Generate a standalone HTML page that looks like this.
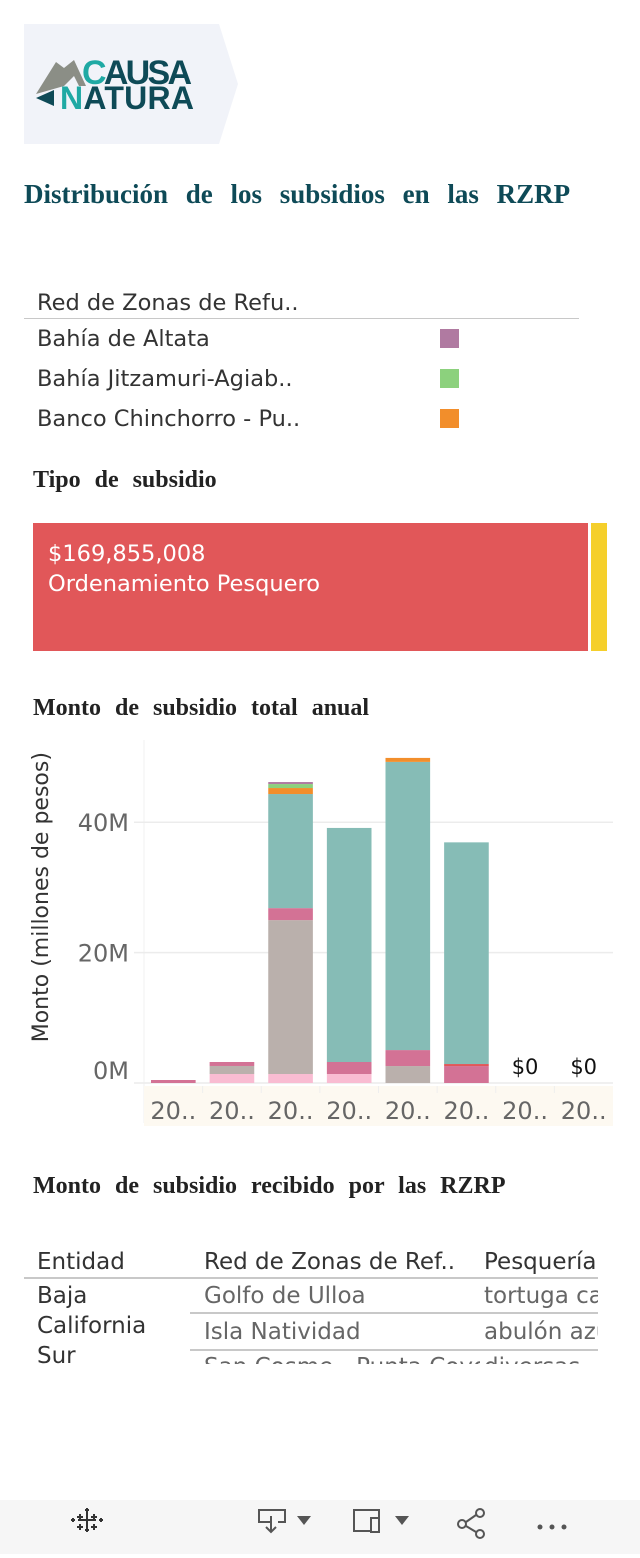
<!DOCTYPE html>
<html><head><meta charset="utf-8">
<style>
*{margin:0;padding:0;box-sizing:border-box}
body{width:640px;height:1554px;background:#fff;position:relative;overflow:hidden;font-family:"DejaVu Sans","Liberation Sans",sans-serif;color:#333}
.abs{position:absolute}
.ser{font-family:"Liberation Serif",serif;font-weight:bold;color:#222;word-spacing:8px;white-space:nowrap}
.leg{font-size:22.5px;color:#333;left:37px;white-space:nowrap}
.sw{width:19px;height:19px;left:440px}
.tb{font-size:23px;white-space:nowrap;overflow:hidden}
</style></head><body>
<div class="abs" style="left:24px;top:24px;width:214px;height:120px">
<svg width="214" height="120" viewBox="0 0 214 120">
<polygon points="0,0 195,0 214,60 195,120 0,120" fill="#f1f3f9"/>
<polygon points="12,70 32,38 40,44 50,36 62,62 55,62 50,52 40,62" fill="#8b8e86"/>
<polygon points="12,74 30,66 30,82" fill="#0e4a57"/>
<text x="58" y="60" font-family="Liberation Sans,sans-serif" font-weight="bold" font-size="34" fill="#0e4a57" textLength="110"><tspan fill="#1fa9a4">C</tspan>AUSA</text>
<text x="36" y="85" font-family="Liberation Sans,sans-serif" font-weight="bold" font-size="32" fill="#0e4a57" textLength="134"><tspan fill="#1fa9a4">N</tspan>ATURA</text>
</svg></div>
<div class="abs ser" style="left:24px;top:179px;font-size:27px;color:#0e4a57;word-spacing:11px">Distribución de los subsidios en las RZRP</div>

<div class="abs leg" style="top:290px">Red de Zonas de Refu..</div>
<div class="abs" style="left:24px;top:318px;width:555px;height:1px;background:#c8c8c8"></div>
<div class="abs leg" style="top:326px">Bahía de Altata</div>
<div class="abs sw" style="top:329px;background:#b07aa1"></div>
<div class="abs leg" style="top:366px">Bahía Jitzamuri-Agiab..</div>
<div class="abs sw" style="top:369px;background:#8cd17d"></div>
<div class="abs leg" style="top:406px">Banco Chinchorro - Pu..</div>
<div class="abs sw" style="top:409px;background:#f28e2b"></div>

<div class="abs ser" style="left:33px;top:467px;font-size:24px">Tipo de subsidio</div>
<div class="abs" style="left:33px;top:523px;width:555px;height:128px;background:#e15759;color:#fff;font-size:22.5px;padding:16px 0 0 15px;line-height:30px">$169,855,008<br>Ordenamiento Pesquero</div>
<div class="abs" style="left:591px;top:523px;width:16px;height:128px;background:#f5cf2b"></div>

<div class="abs ser" style="left:33px;top:695px;font-size:24px">Monto de subsidio total anual</div>
<svg class="abs" id="chart" style="left:0;top:730px" width="640" height="400"></svg>

<div class="abs ser" style="left:33px;top:1173px;font-size:24px">Monto de subsidio recibido por las RZRP</div>
<div class="abs" style="left:0;top:1248px;width:598px;height:116px;overflow:hidden">
<div class="abs tb" style="left:37px;top:1px;color:#333">Entidad</div>
<div class="abs tb" style="left:204px;top:1px;width:276px;color:#333">Red de Zonas de Ref..</div>
<div class="abs tb" style="left:484px;top:1px;color:#333">Pesquería</div>
<div class="abs" style="left:24px;top:29px;width:574px;height:2px;background:#c8c8c8"></div>
<div class="abs tb" style="left:37px;top:33px;line-height:30px;color:#333">Baja<br>California<br>Sur</div>
<div class="abs tb" style="left:204px;top:35px;width:276px;color:#666">Golfo de Ulloa</div>
<div class="abs tb" style="left:484px;top:35px;color:#666">tortuga caguama</div>
<div class="abs" style="left:190px;top:64px;width:408px;height:2px;background:#c8c8c8"></div>
<div class="abs tb" style="left:204px;top:71px;width:276px;color:#666">Isla Natividad</div>
<div class="abs tb" style="left:484px;top:71px;color:#666">abulón azul</div>
<div class="abs" style="left:190px;top:101px;width:408px;height:2px;background:#c8c8c8"></div>
<div class="abs tb" style="left:204px;top:106px;width:276px;color:#666">San Cosme - Punta Coyote</div>
<div class="abs tb" style="left:484px;top:106px;color:#666">diversas</div>
</div>

<div class="abs" style="left:0;top:1500px;width:640px;height:54px;background:#f6f6f6">
<svg width="640" height="54">
<g stroke="#333" stroke-width="2">
<path d="M87 11v18M78 20h18M80 14v6M77 17h6M94 14v6M91 17h6M80 24v6M77 27h6M94 24v6M91 27h6M87 8v4M85 10h4M87 28v4M85 30h4M73 18v4M71 20h4M101 18v4M99 20h4"/></g>
<g fill="none" stroke="#555" stroke-width="2"><path d="M271 22h-12v-12h26v12h-7M271 16v16M266 27l5 5 5-5"/></g>
<polygon points="297,16 311,16 304,25" fill="#555"/>
<g fill="none" stroke="#555" stroke-width="2"><path d="M360 31h-6v-21h25v8M360 31h10"/><rect x="371" y="18" width="8" height="14"/></g>
<polygon points="395,16 409,16 402,25" fill="#555"/>
<g fill="none" stroke="#555" stroke-width="2"><circle cx="480" cy="13" r="4"/><circle cx="480" cy="34" r="4"/><circle cx="462" cy="24" r="4"/><path d="M466 22l10-7M466 26l10 6"/></g>
<g fill="#555"><circle cx="540" cy="27" r="2.5"/><circle cx="552" cy="27" r="2.5"/><circle cx="564" cy="27" r="2.5"/></g>
</svg></div>

<script>
const categories=["20..","20..","20..","20..","20..","20..","20..","20.."];
const seriesNames=["light-pink","grey","rose","red","teal","orange","green","purple"];
const seriesColors=["#f9bcd2","#bab0ac","#d37295","#e15759","#86bcb6","#f28e2b","#8cd17d","#b07aa1"];
const sLightPink=[0,1.38,1.38,1.38,0,0,0,0];
const sGrey=[0,1.23,23.6,0,2.6,0,0,0];
const sRose=[0.46,0.61,1.84,1.84,2.45,2.6,0,0];
const sRed=[0,0,0,0,0,0.31,0,0];
const sTeal=[0,0,17.5,35.9,44.2,34.0,0,0];
const sOrange=[0,0,0.92,0,0.61,0,0,0];
const sGreen=[0,0,0.61,0,0,0,0,0];
const sPurple=[0,0,0.31,0,0,0,0,0];
const yTicks=[0,20,40];
const yTickLabels=["0M","20M","40M"];
const series=[sLightPink,sGrey,sRose,sRed,sTeal,sOrange,sGreen,sPurple];
const svg=document.getElementById('chart');
const NS='http://www.w3.org/2000/svg';
const x0=144,x1=613,y0=353,pxPerM=6.52;
const slot=(x1-x0)/categories.length;
const yS=v=>y0-v*pxPerM;
const xS=i=>x0+i*slot;
function mk(t,a){const e=document.createElementNS(NS,t);for(const k in a)e.setAttribute(k,a[k]);svg.appendChild(e);return e;}
let ax=mk('line',{x1:x0,x2:x0,y1:10,y2:y0+40,stroke:'#f0f0f0'});


yTicks.forEach((t,i)=>{
 const g=mk('line',{x1:134,x2:x1,y1:yS(t),y2:yS(t),stroke:'#ececec','stroke-width':1.5});
 
 
 const l=mk('text',{x:129,y:yS(t)+(t===0?-4:9),'text-anchor':'end','font-size':24,fill:'#666','font-family':'DejaVu Sans, sans-serif'});
 l.textContent=yTickLabels[i];
 
 
});
const yt=mk('text',{transform:'translate(48,'+(yS(28.5))+') rotate(-90)','text-anchor':'middle','font-size':22,fill:'#333','font-family':'DejaVu Sans, sans-serif'});
yt.textContent='Monto (millones de pesos)';


const band=mk('rect',{x:x0,y:y0+3,width:x1-x0,height:40,fill:'#fdf9f1'});


categories.forEach((c,i)=>{
 const bx=xS(i)+7,bw=slot-14;
 let acc=0;
 series.forEach((s,k)=>{
  const v=s[i]; if(v<=0)return;
  const r=mk('rect',{x:bx,y:yS(acc+v),width:bw,height:v*pxPerM,fill:seriesColors[k]});
  
  
  acc+=v;
 });
 if(acc===0){
  const z=mk('text',{x:bx+bw/2,y:y0-9,'text-anchor':'middle','font-size':21,fill:'#111','font-family':'DejaVu Sans, sans-serif'});
  z.textContent='$0';
  
  
 }
 const t=mk('text',{x:xS(i)+slot/2,y:y0+36,'text-anchor':'middle','font-size':24,fill:'#666','font-family':'DejaVu Sans, sans-serif'});
 t.textContent=c;
 
 
 if(i>0){const d=mk('line',{x1:xS(i),x2:xS(i),y1:y0+3,y2:y0+10,stroke:'#eee'});
 
 }
});
</script>
</body></html>
